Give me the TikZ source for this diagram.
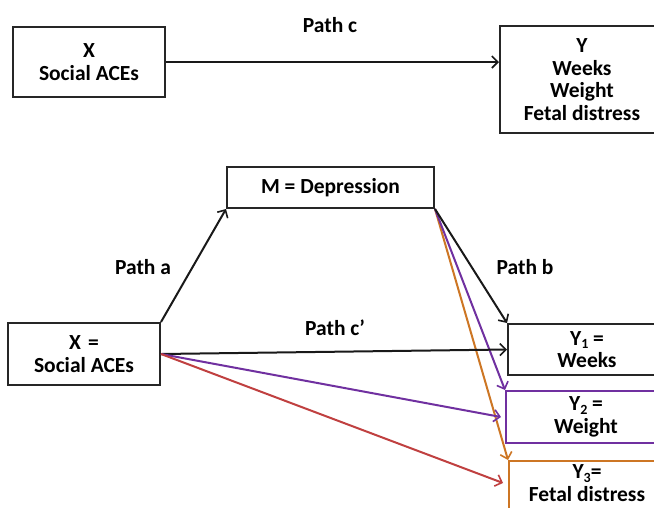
\documentclass[tikz,border=0pt]{standalone}
\usepackage{fontspec}
\setmainfont{Carlito}
\usetikzlibrary{arrows.meta,calc}
\definecolor{mpurple}{RGB}{112,48,160}
\definecolor{morange}{RGB}{205,118,36}
\definecolor{mred}{RGB}{192,64,64}
\newcommand\subnum[1]{\raisebox{-0.35ex}{\fontsize{14}{14}\selectfont #1}}
\tikzset{
  box/.style={draw=#1, line width=2pt, align=center, inner sep=0pt,
    font=\fontsize{21.5}{22.5}\selectfont\bfseries},
  box/.default=black!85,
  txt/.style={align=center, inner sep=0pt, font=\fontsize{21.5}{22.5}\selectfont\bfseries},
  arr/.style={draw=#1, line width=2pt, -{Straight Barb[length=6pt,width=12pt,line width=1.6pt]}},
  arr/.default=black!90
}
\begin{document}
\begin{tikzpicture}[x=1pt,y=-1pt]
\useasboundingbox (0,0) rectangle (654,507);
\clip (0,0) rectangle (654,507);
\fill[white] (0,0) rectangle (654,507);
% top panel
\node[box, minimum width=152pt, minimum height=70pt] (tX) at (89,62) {X\\Social ACEs};
\node[box, minimum width=164pt, minimum height=107pt] (tY) at (582,79.5) {Y\\Weeks\\Weight\\Fetal distress};
\node[txt] (lc) at (330,25) {Path c};
\draw[arr] (tX.east) -- (tX.east -| tY.west);
% bottom panel
\node[box, minimum width=207pt, minimum height=41pt] (M) at (330.5,187.5) {M = Depression};
\node[box, minimum width=152pt, minimum height=62pt] (bX) at (84,354) {X\,\,=\\Social ACEs};
\node[box, minimum width=158pt, minimum height=51pt] (Y1) at (587,349.5) {Y\subnum{1} =\\Weeks};
\node[box=mpurple, minimum width=160pt, minimum height=52pt] (Y2) at (586,417) {Y\subnum{2} =\\Weight};
\node[box=morange, minimum width=158pt, minimum height=80pt, anchor=north west] (Y3) at (508,460) {};
\node[txt] (Y3t) at (587,483) {Y\subnum{3}=\\Fetal distress};
\coordinate (Y3in) at ($(Y3.north west)+(-5,23)$);
\node[txt] (la) at (143,267) {Path a};
\node[txt] (lb) at (525,267) {Path b};
\node[txt] (lcp) at (335,328) {Path c’};
\draw[arr] (bX.north east) -- (M.south west);
\draw[arr=morange] (M.south east) -- (Y3.north west);
\draw[arr=mpurple] (M.south east) -- (Y2.north west);
\draw[arr] (M.south east) -- (Y1.north west);
\draw[arr] (bX.east) -- (Y1.west);
\draw[arr=mpurple] (bX.east) -- ([xshift=-4pt]Y2.west);
\draw[arr=mred] (bX.east) -- (Y3in);
\end{tikzpicture}
\end{document}
